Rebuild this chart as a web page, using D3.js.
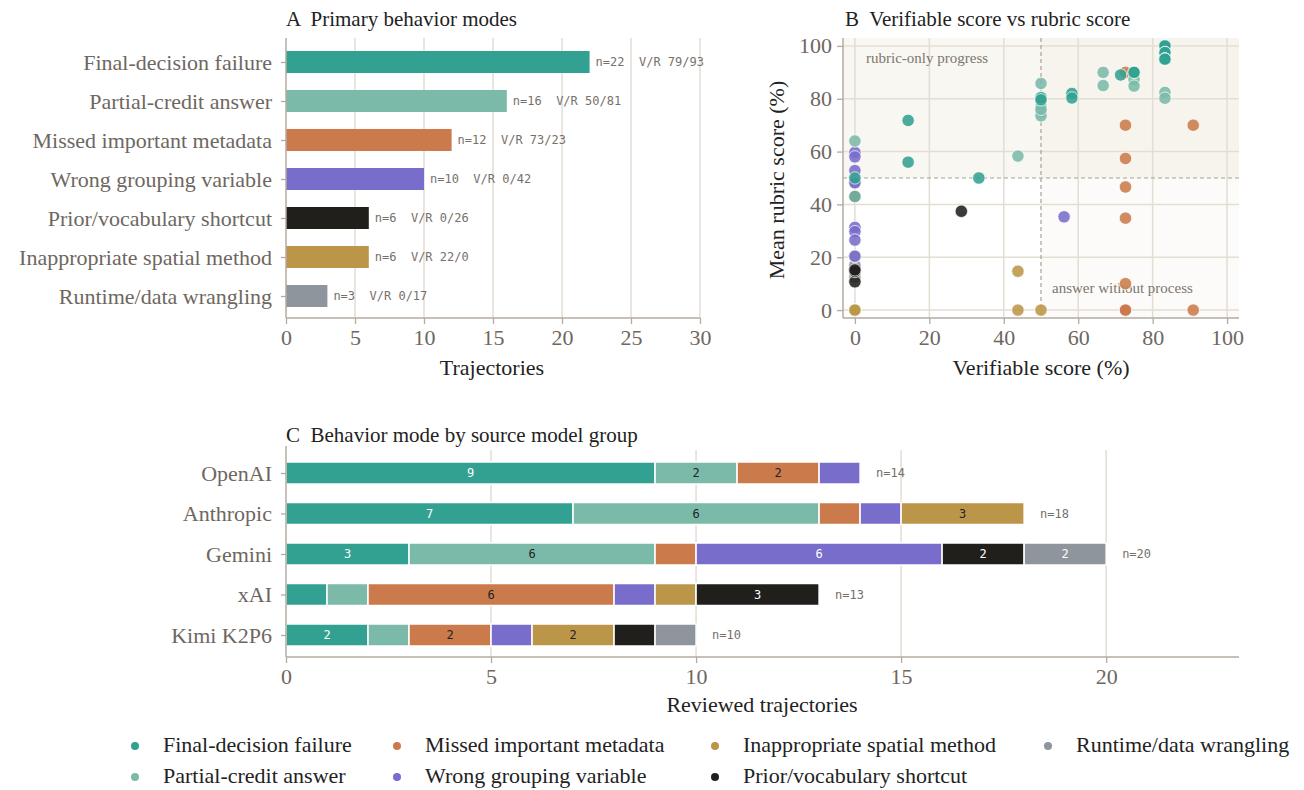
<!DOCTYPE html>
<html><head><meta charset="utf-8">
<script src="https://cdn.jsdelivr.net/npm/d3@7"></script>
<style>
body{margin:0;background:#fff;}
svg{display:block;}
text{font-family:"Liberation Serif",serif;white-space:pre;}
.mono{font-family:"DejaVu Sans Mono",monospace;}
</style></head>
<body><svg id="c" width="1304" height="790"></svg>
<script>
// ---------- data ----------
const modes = ["Final-decision failure","Partial-credit answer","Missed important metadata","Wrong grouping variable","Prior/vocabulary shortcut","Inappropriate spatial method","Runtime/data wrangling"];
const modeKeys = ["final","partial","missed","wrong","prior","spatial","runtime"];
const modeCounts = [22,16,12,10,6,6,3];
const modeVR = ["79/93","50/81","73/23","0/42","0/26","22/0","0/17"];
const colors = {final:"#33a191",partial:"#7bbaa9",missed:"#cb7b4b",wrong:"#786dcb",spatial:"#bb9648",prior:"#201f1c",runtime:"#8f959d"};

// scatter points per mode: [verifiable, rubric]
const ptsRuntime = [[0,17],[0,12.5],[0,20.3]];
const ptsPrior = [[0,10.7],[0,14.6],[0,15.2],[28.6,37.4],[0,43],[0,48.5]];
const ptsSpatial = [[0,0],[0,0],[0,0],[43.8,0],[43.8,14.7],[50,0]];
const ptsWrong = [[0,59.7],[0,58],[0,52.8],[0,49],[0,48.2],[0,31.3],[0,29.7],[0,26.5],[0,20.4],[56.2,35.3]];
const ptsMissed = [[72.7,90],[72.7,70],[72.7,57.4],[72.7,46.6],[72.7,34.8],[72.7,10],[72.7,0],[72.7,0],[72.7,0],[72.7,0],[90.9,70],[90.9,0]];
const ptsPartial = [[0,64],[0,43],[43.8,58.3],[50,85.8],[50,80.5],[50,78.9],[50,77],[50,74.9],[50,73.5],[50,76],[66.7,90],[66.7,85],[75,87.3],[75,84.8],[83.3,82.4],[83.3,80.2]];
const ptsFinal = [[0,50],[14.3,71.8],[14.3,56],[33.3,50],[50,80.4],[50,79.6],[58.3,82],[58.3,80.3],[71.4,89],[75,90],[75,90],[83.3,100],[83.3,100],[83.3,100],[83.3,100],[83.3,97.5],[83.3,97.5],[83.3,97.5],[83.3,95],[83.3,95],[83.3,95],[83.3,95]];

const groups = ["OpenAI","Anthropic","Gemini","xAI","Kimi K2P6"];
const stackOrder = ["final","partial","missed","wrong","spatial","prior","runtime"];
const gFinal   = [9,7,3,1,2];
const gPartial = [2,6,6,1,1];
const gMissed  = [2,1,1,6,2];
const gWrong   = [1,1,6,1,1];
const gSpatial = [0,3,0,1,2];
const gPrior   = [0,0,2,3,1];
const gRuntime = [0,0,2,0,1];

const legendRow1 = ["final","missed","spatial","runtime"];
const legendRow2 = ["partial","wrong","prior"];

// ---------- styles ----------
const AX="#b3aba0", GRID="#e3ded4", TICK="#6e675f", DARK="#222";
const FS="22px", TFS="21px";
const svg = d3.select("#c");
const labelOf = k => modes[modeKeys.indexOf(k)];

function styleAxis(g){
  g.selectAll(".domain").remove();
  g.selectAll("line").attr("stroke",AX).attr("stroke-width",1.3);
  g.selectAll("text").attr("fill",TICK).style("font-family","'Liberation Serif',serif").style("font-size",FS);
}

// ================= Panel A =================
{
  const x = d3.scaleLinear().domain([0,30]).range([286,700]);
  const y = d3.scalePoint().domain(modes).range([62,296]);
  const g = svg.append("g");
  g.append("text").attr("x",286).attr("y",26).attr("fill",DARK).style("font-size",TFS).text("A  Primary behavior modes");
  g.selectAll(".grid").data(x.ticks(6).filter(d=>d>0)).join("line")
    .attr("x1",d=>x(d)).attr("x2",d=>x(d)).attr("y1",38).attr("y2",318).attr("stroke",GRID).attr("stroke-width",1.5);
  g.selectAll(".bar").data(modes).join("rect")
    .attr("x",x(0)).attr("y",d=>y(d)-11).attr("height",22)
    .attr("width",(d,i)=>x(modeCounts[i])-x(0))
    .attr("fill",(d,i)=>colors[modeKeys[i]]);
  g.selectAll(".ann").data(modes).join("text").attr("class","mono")
    .attr("x",(d,i)=>x(modeCounts[i])+6).attr("y",d=>y(d)+4)
    .attr("fill","#77706a").style("font-size","12px")
    .text((d,i)=>`n=${modeCounts[i]}  V/R ${modeVR[i]}`);
  const xa = g.append("g").attr("transform","translate(0,318)").call(d3.axisBottom(x).ticks(6).tickSize(6).tickPadding(5));
  styleAxis(xa);
  const ya = g.append("g").attr("transform","translate(286,0)").call(d3.axisLeft(y).tickSize(5).tickPadding(9));
  styleAxis(ya);
  g.append("line").attr("x1",286).attr("x2",286).attr("y1",38).attr("y2",318).attr("stroke",AX).attr("stroke-width",1.5);
  g.append("line").attr("x1",286).attr("x2",700).attr("y1",318).attr("y2",318).attr("stroke",AX).attr("stroke-width",1.5);
  g.append("text").attr("x",492).attr("y",375).attr("text-anchor","middle").attr("fill",DARK).style("font-size",FS).text("Trajectories");
}

// ================= Panel B =================
{
  const x = d3.scaleLinear().domain([-3.2,103.2]).range([843,1239]);
  const y = d3.scaleLinear().domain([-3,103]).range([318,38]);
  const g = svg.append("g");
  g.append("text").attr("x",845).attr("y",26).attr("fill",DARK).style("font-size",TFS).text("B  Verifiable score vs rubric score");
  g.append("rect").attr("x",x(-3.2)).attr("y",y(103)).attr("width",x(103.2)-x(-3.2)).attr("height",y(50)-y(103)).attr("fill","#efe9dc").attr("opacity",0.38);
  g.append("rect").attr("x",x(50)).attr("y",y(103)).attr("width",x(103.2)-x(50)).attr("height",y(-3)-y(103)).attr("fill","#efe9dc").attr("opacity",0.18);
  const ticks=[0,20,40,60,80,100];
  g.selectAll(".gx").data(ticks).join("line").attr("x1",d=>x(d)).attr("x2",d=>x(d)).attr("y1",38).attr("y2",318).attr("stroke",GRID).attr("stroke-width",1.5);
  g.selectAll(".gy").data(ticks).join("line").attr("y1",d=>y(d)).attr("y2",d=>y(d)).attr("x1",843).attr("x2",1239).attr("stroke",GRID).attr("stroke-width",1.5);
  g.append("line").attr("x1",x(50)).attr("x2",x(50)).attr("y1",38).attr("y2",318).attr("stroke","#a8a096").attr("stroke-width",1.2).attr("stroke-dasharray","4,3");
  g.append("line").attr("x1",843).attr("x2",1239).attr("y1",y(50)).attr("y2",y(50)).attr("stroke","#a8a096").attr("stroke-width",1.2).attr("stroke-dasharray","4,3");
  g.append("text").attr("x",866).attr("y",63).attr("fill","#7d766e").style("font-size","15px").text("rubric-only progress");
  g.append("text").attr("x",1052).attr("y",293).attr("fill","#7d766e").style("font-size","15px").text("answer without process");
  const layers = [["runtime",ptsRuntime],["prior",ptsPrior],["spatial",ptsSpatial],["wrong",ptsWrong],["missed",ptsMissed],["partial",ptsPartial],["final",ptsFinal]];
  layers.forEach(([k,pts])=>{
    g.append("g").selectAll("circle").data(pts).join("circle")
      .attr("cx",d=>x(d[0])).attr("cy",d=>y(d[1])).attr("r",6.2)
      .attr("fill",colors[k]).attr("fill-opacity",0.88).attr("stroke","#fff").attr("stroke-width",0.9).attr("stroke-opacity",0.8);
  });
  const xa = g.append("g").attr("transform","translate(0,318)").call(d3.axisBottom(x).tickValues(ticks).tickSize(6).tickPadding(5));
  styleAxis(xa);
  const ya = g.append("g").attr("transform","translate(843,0)").call(d3.axisLeft(y).tickValues(ticks).tickSize(6).tickPadding(5));
  styleAxis(ya);
  g.append("line").attr("x1",843).attr("x2",843).attr("y1",38).attr("y2",318).attr("stroke",AX).attr("stroke-width",1.5);
  g.append("line").attr("x1",843).attr("x2",1239).attr("y1",318).attr("y2",318).attr("stroke",AX).attr("stroke-width",1.5);
  g.append("text").attr("x",1041).attr("y",375).attr("text-anchor","middle").attr("fill",DARK).style("font-size",FS).text("Verifiable score (%)");
  g.append("text").attr("transform","translate(784,180) rotate(-90)").attr("text-anchor","middle").attr("fill",DARK).style("font-size",FS).text("Mean rubric score (%)");
}

// ================= Panel C =================
{
  const x = d3.scaleLinear().domain([0,23.24]).range([286,1239]);
  const y = d3.scalePoint().domain(groups).range([473,635]);
  const g = svg.append("g");
  g.append("text").attr("x",286).attr("y",442).attr("fill",DARK).style("font-size",TFS).text("C  Behavior mode by source model group");
  g.selectAll(".grid").data([5,10,15,20]).join("line")
    .attr("x1",d=>x(d)).attr("x2",d=>x(d)).attr("y1",450).attr("y2",657).attr("stroke",GRID).attr("stroke-width",1.5);
  const vals = {final:gFinal,partial:gPartial,missed:gMissed,wrong:gWrong,spatial:gSpatial,prior:gPrior,runtime:gRuntime};
  const rows = groups.map((gname,i)=>{const r={group:gname}; stackOrder.forEach(k=>r[k]=vals[k][i]); return r;});
  const series = d3.stack().keys(stackOrder)(rows);
  const lightText = {final:"#fff",partial:"#222",missed:"#222",wrong:"#fff",spatial:"#222",prior:"#fff",runtime:"#fff"};
  series.forEach(s=>{
    const k=s.key;
    const sg=g.append("g");
    sg.selectAll("rect").data(s.filter(d=>d[1]>d[0])).join("rect")
      .attr("x",d=>x(d[0])).attr("width",d=>x(d[1])-x(d[0]))
      .attr("y",d=>y(d.data.group)-11).attr("height",22)
      .attr("fill",colors[k]).attr("stroke","#fff").attr("stroke-width",1.5);
    sg.selectAll("text").data(s.filter(d=>d[1]-d[0]>=2)).join("text").attr("class","mono")
      .attr("x",d=>(x(d[0])+x(d[1]))/2).attr("y",d=>y(d.data.group)+4).attr("text-anchor","middle")
      .attr("fill",lightText[k]).style("font-size","12px").text(d=>d[1]-d[0]);
  });
  g.selectAll(".tot").data(rows).join("text").attr("class","mono")
    .attr("x",d=>x(d3.sum(stackOrder,k=>d[k]))+16).attr("y",d=>y(d.group)+4)
    .attr("fill","#77706a").style("font-size","12px").text(d=>"n="+d3.sum(stackOrder,k=>d[k]));
  const xa = g.append("g").attr("transform","translate(0,657)").call(d3.axisBottom(x).tickValues([0,5,10,15,20]).tickSize(6).tickPadding(5));
  styleAxis(xa);
  const ya = g.append("g").attr("transform","translate(286,0)").call(d3.axisLeft(y).tickSize(5).tickPadding(9));
  styleAxis(ya);
  g.append("line").attr("x1",286).attr("x2",286).attr("y1",446).attr("y2",657).attr("stroke",AX).attr("stroke-width",1.5);
  g.append("line").attr("x1",286).attr("x2",1239).attr("y1",657).attr("y2",657).attr("stroke",AX).attr("stroke-width",1.5);
  g.append("text").attr("x",762).attr("y",712).attr("text-anchor","middle").attr("fill",DARK).style("font-size",FS).text("Reviewed trajectories");
}

// ================= Legend =================
{
  const colX=[135,397,715,1048];
  const g=svg.append("g");
  [[legendRow1,746],[legendRow2,777]].forEach(([row,yy])=>{
    row.forEach((k,i)=>{
      g.append("circle").attr("cx",colX[i]).attr("cy",yy).attr("r",4).attr("fill",colors[k]);
      g.append("text").attr("x",colX[i]+28).attr("y",yy+6).attr("fill",DARK).style("font-size",FS).text(labelOf(k));
    });
  });
}
</script></body></html>
